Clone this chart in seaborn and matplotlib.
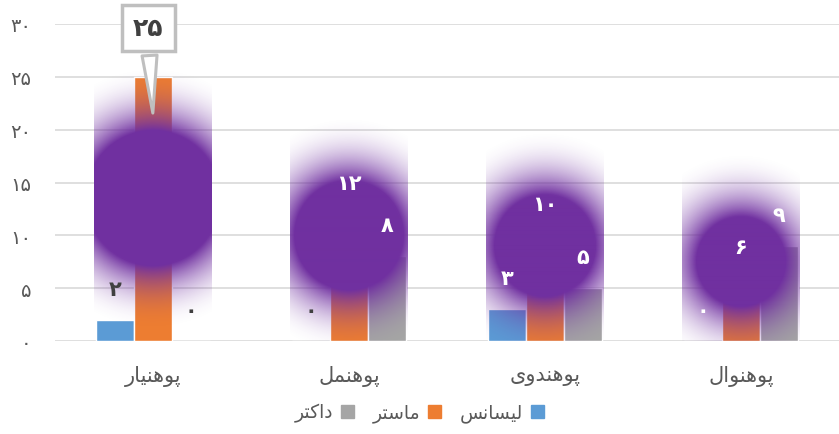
"""
Academic rank vs. degree - grouped bar chart with glow labels
"""

import numpy as np
import pandas as pd
import matplotlib
matplotlib.use('Agg')
import matplotlib.pyplot as plt
from matplotlib.patches import Patch
import seaborn as sns

# Data
categories = ['پوهنیار', 'پوهنمل', 'پوهندوی', 'پوهنوال']
degrees = ['لیسانس', 'ماستر', 'داکتر']
bachelor = [2, 0, 3, 0]
master = [25, 12, 10, 6]
doctor = [0, 8, 5, 9]
y_ticks = [0, 5, 10, 15, 20, 25, 30]

colors = ['#5B9BD5', '#ED7D31', '#A5A5A5']
purple = (0x70 / 255, 0x30 / 255, 0xA0 / 255)

# Arabic/Persian shaping (matplotlib has no bidi support)
FORMS = {
    'پ': ('\ufb56', '\ufb57', '\ufb58', '\ufb59'),
    'ه': ('\ufee9', '\ufeea', '\ufeeb', '\ufeec'),
    'ن': ('\ufee5', '\ufee6', '\ufee7', '\ufee8'),
    'ی': ('\ufbfc', '\ufbfd', '\ufbfe', '\ufbff'),
    'م': ('\ufee1', '\ufee2', '\ufee3', '\ufee4'),
    'ل': ('\ufedd', '\ufede', '\ufedf', '\ufee0'),
    'س': ('\ufeb1', '\ufeb2', '\ufeb3', '\ufeb4'),
    'ت': ('\ufe95', '\ufe96', '\ufe97', '\ufe98'),
    'ک': ('\ufb8e', '\ufb8f', '\ufb90', '\ufb91'),
    'و': ('\ufeed', '\ufeee'),
    'ا': ('\ufe8d', '\ufe8e'),
    'ر': ('\ufead', '\ufeae'),
    'د': ('\ufea9', '\ufeaa'),
}


def shape(word):
    out = []
    for i, ch in enumerate(word):
        f = FORMS.get(ch)
        if f is None:
            out.append(ch)
            continue
        prev = word[i - 1] if i > 0 else None
        nxt = word[i + 1] if i + 1 < len(word) else None
        jp = prev in FORMS and len(FORMS[prev]) == 4
        jn = len(f) == 4 and nxt in FORMS
        idx = 3 if (jp and jn) else 1 if jp else 2 if jn else 0
        out.append(f[idx])
    return ''.join(reversed(out))


def fa(n):
    return str(n).translate(str.maketrans('0123456789', '۰۱۲۳۴۵۶۷۸۹'))


df = pd.DataFrame({
    'rank': [shape(c) for c in categories] * 3,
    'degree': np.repeat([shape(d) for d in degrees], len(categories)),
    'count': bachelor + master + doctor,
})

sns.set_style('white')
plt.rcParams['font.family'] = ['DejaVu Sans']

W, H = 839, 435
fig = plt.figure(figsize=(W / 100, H / 100), dpi=100)
ax_l, ax_r, ax_t, ax_b = 55, 839, 25, 342
ax = fig.add_axes([ax_l / W, 1 - ax_b / H, (ax_r - ax_l) / W, (ax_b - ax_t) / H])

sns.barplot(data=df, x='rank', y='count', hue='degree', palette=colors,
            saturation=1, width=0.58, gap=0, legend=False, ax=ax, zorder=2)

ppx = (ax_r - ax_l) / 4.0
ppy = (ax_b - ax_t) / 30.0

# glow blobs (centre in data units, core radius in px)
glow_cy = [13.5, 10.0, 9.0, 7.5]
glow_r = [68, 55, 51, 45]
fade = 66
half_w = 59
for i in range(len(categories)):
    R = glow_r[i]
    ext = R + fade
    xs = np.linspace(-half_w, half_w, 2 * half_w)
    ys = np.linspace(ext, -ext, int(2 * ext))
    X, Y = np.meshgrid(xs, ys)
    d = np.sqrt(X ** 2 + Y ** 2)
    t = np.clip((d - R) / fade, 0, 1)
    alpha = (1 - t) ** 2.2
    img = np.zeros(d.shape + (4,))
    img[..., 0], img[..., 1], img[..., 2] = purple
    img[..., 3] = alpha
    ax.imshow(img, extent=[i - half_w / ppx, i + half_w / ppx,
                           glow_cy[i] - ext / ppy, glow_cy[i] + ext / ppy],
              aspect='auto', zorder=3, interpolation='bilinear')

# data labels
for s, cont in enumerate(ax.containers):
    for i, bar in enumerate(cont):
        bx = bar.get_x() + bar.get_width() / 2
        h = bar.get_height()
        if s == 1 and i == 0:
            # callout for the biggest value
            ax.annotate(fa(int(h)), xy=(bx, h - 39 / ppy), xytext=(bx - 5 / ppx, 29.6),
                        ha='center', va='center', fontsize=18, fontweight='bold',
                        color='#404040', zorder=6, annotation_clip=False,
                        bbox=dict(boxstyle='square,pad=0.45', fc='white', ec='#BFBFBF', lw=2.5),
                        arrowprops=dict(arrowstyle='wedge,tail_width=0.6', fc='white',
                                        ec='#BFBFBF', lw=2.2))
            continue
        lx_px = (bx - i) * ppx
        ly_px = (h - glow_cy[i]) * ppy + 31
        inside = np.hypot(lx_px, ly_px) < glow_r[i] + 22
        ax.annotate(fa(int(h)), xy=(bx, h), xytext=(0, 31), textcoords='offset pixels',
                    ha='center', va='center', fontsize=15, fontweight='bold',
                    color='white' if inside else '#404040', zorder=5)

ax.set_xlim(-0.5, 3.5)
ax.set_ylim(0, 30)
ax.set_yticks(y_ticks)
ax.set_yticklabels([fa(t) for t in y_ticks])
ax.yaxis.grid(True, color='#D9D9D9', lw=1.2)
ax.set_axisbelow(True)
ax.tick_params(axis='y', length=0, pad=17, labelsize=14, labelcolor='#595959')
ax.tick_params(axis='x', length=0, pad=17, labelsize=15, labelcolor='#595959')
ax.set_xlabel('')
ax.set_ylabel('')
sns.despine(ax=ax, left=True, bottom=True)

# legend (right-to-left order)
handles = [Patch(color=colors[k], label=shape(degrees[k])) for k in (2, 1, 0)]
fig.legend(handles=handles, loc='lower center', bbox_to_anchor=(0.5, -0.012), ncol=3,
           frameon=False, markerfirst=False, handlelength=0.7, handleheight=0.7,
           columnspacing=1.0, handletextpad=0.4, fontsize=13.5, labelcolor='#595959')

fig.savefig('out.png', dpi=100)
